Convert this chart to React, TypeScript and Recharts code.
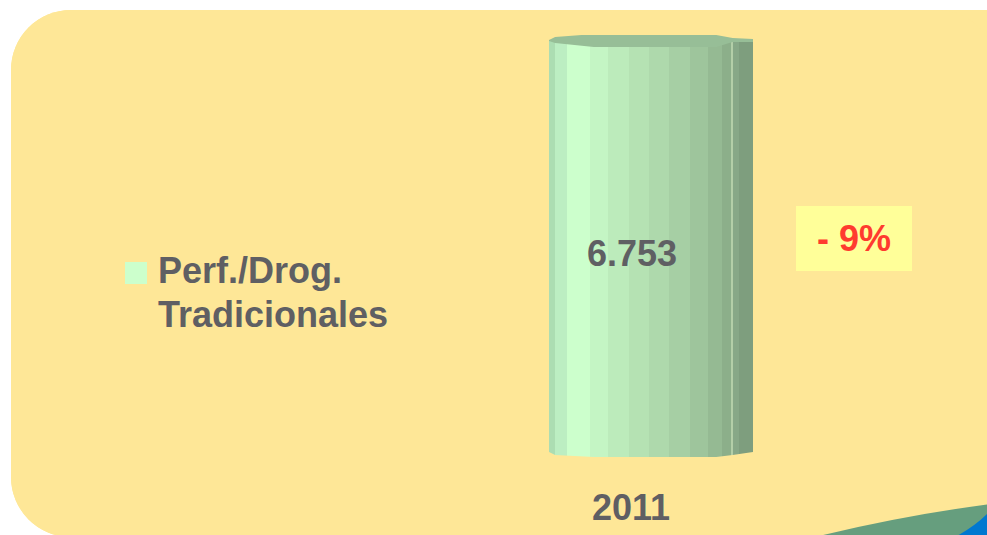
import React from "react";
import { BarChart, Bar, XAxis, YAxis, LabelList } from "recharts";

const years = ["2011"];
const values = [6753];
const seriesName = ["Perf./Drog.", "Tradicionales"];
const changeLabel = "- 9%";

const data = years.map((y, i) => ({ year: y, value: values[i] }));

const FONT = "'Liberation Sans', Arial, sans-serif";
const TEXT = "#5f5f63";

const bands: [number, number, string][] = [
  [0, 0.03, "#ACDDB2"],
  [0.03, 0.09, "#BCEEC2"],
  [0.09, 0.2, "#CCFFCC"],
  [0.2, 0.29, "#C4F5C4"],
  [0.29, 0.39, "#BCEBBB"],
  [0.39, 0.49, "#B5E2B3"],
  [0.49, 0.59, "#AED9AC"],
  [0.59, 0.69, "#A6CFA4"],
  [0.69, 0.78, "#9EC59C"],
  [0.78, 0.85, "#95BA93"],
  [0.85, 0.89, "#8CAF8A"],
  [0.89, 0.9, "#B3CFA8"],
  [0.9, 0.93, "#87A887"],
  [0.93, 1, "#7E9E7E"],
];

const CylinderShape = (props: any) => {
  const { x, y, width, height } = props;
  const w = width;
  const sx = (f: number) => x + f * w;
  const b = y + height;
  return (
    <g>
      <defs>
        <linearGradient id="cylGrad" gradientUnits="userSpaceOnUse" x1={x} y1={0} x2={x + w} y2={0}>
          {bands.flatMap(([a, c, col], i) => [
            <stop key={i + "a"} offset={a} stopColor={col} />,
            <stop key={i + "b"} offset={c} stopColor={col} />,
          ])}
        </linearGradient>
      </defs>
      <rect x={x} y={y} width={w} height={height} fill="url(#cylGrad)" />
      <polygon
        points={`${x},${b} ${sx(0.03)},${b + 3} ${sx(0.22)},${b + 5} ${sx(0.82)},${b + 5} ${sx(0.9)},${b + 3} ${x + w},${b}`}
        fill="url(#cylGrad)"
      />
      <polygon
        points={`${x},${y - 1} ${sx(0.03)},${y - 4} ${sx(0.16)},${y - 6} ${sx(0.82)},${y - 6} ${sx(0.9)},${y - 3} ${x + w},${y - 2} ${x + w},${y + 1} ${sx(0.9)},${y + 1} ${sx(0.82)},${y + 6} ${sx(0.22)},${y + 6} ${sx(0.03)},${y + 2} ${x},${y}`}
        fill="#97BE97"
      />
    </g>
  );
};

const YearTick = (props: any) => {
  const { x, y, payload } = props;
  return (
    <text x={x - 20} y={520} textAnchor="middle" fontFamily={FONT} fontWeight="bold" fontSize={36} fill={TEXT}>
      {payload.value}
    </text>
  );
};

const fmt = (v: number) => v.toLocaleString("de-DE");

export default function App() {
  return (
    <div style={{ position: "absolute", left: 0, top: 0, width: 987, height: 535, background: "#ffffff", overflow: "hidden" }}>
      <div
        style={{
          position: "absolute",
          left: 11,
          top: 10,
          width: 1040,
          height: 527,
          borderRadius: 60,
          background: "#FEE797",
        }}
      />
      <div
        style={{
          position: "absolute",
          left: 11,
          top: 10,
          width: 986,
          height: 527,
          borderRadius: "60px 60px 0 60px",
          background: "#FEE797",
        }}
      />
      <svg width={987} height={535} style={{ position: "absolute", left: 0, top: 0 }}>
        <path d="M 815 537 Q 900 516 990 504 L 990 537 Z" fill="#669E7E" />
        <path d="M 955 537 Q 976 526 990 511 L 990 537 Z" fill="#0078D0" />
      </svg>
      <div style={{ position: "absolute", left: 0, top: 0 }}>
        <BarChart width={987} height={535} data={data} margin={{ top: 41, right: 65, bottom: 0, left: 380 }}>
          <XAxis dataKey="year" axisLine={false} tickLine={false} height={83} tick={<YearTick />} interval={0} />
          <YAxis hide domain={[0, 6753]} />
          <Bar dataKey="value" barSize={204} isAnimationActive={false} shape={<CylinderShape />}>
            <LabelList
              dataKey="value"
              position="center"
              content={(p: any) => (
                <text
                  x={p.x + p.width / 2 - 19}
                  y={p.y + 212 + 13}
                  textAnchor="middle"
                  fontFamily={FONT}
                  fontWeight="bold"
                  fontSize={36}
                  fill={TEXT}
                >
                  {fmt(p.value)}
                </text>
              )}
            />
          </Bar>
        </BarChart>
      </div>
      <div style={{ position: "absolute", left: 125, top: 262, width: 22, height: 22, background: "#CCFFCC" }} />
      <div
        style={{
          position: "absolute",
          left: 158,
          top: 249,
          fontFamily: FONT,
          fontWeight: "bold",
          fontSize: 36,
          lineHeight: "44px",
          color: TEXT,
          whiteSpace: "nowrap",
        }}
      >
        {seriesName.map((s) => (
          <div key={s}>{s}</div>
        ))}
      </div>
      <div
        style={{
          position: "absolute",
          left: 796,
          top: 206,
          width: 116,
          height: 65,
          background: "#FFFF99",
          color: "#FF3B2F",
          fontFamily: FONT,
          fontWeight: "bold",
          fontSize: 36,
          lineHeight: "65px",
          textAlign: "center",
          whiteSpace: "pre",
        }}
      >
        {changeLabel}
      </div>
    </div>
  );
}
